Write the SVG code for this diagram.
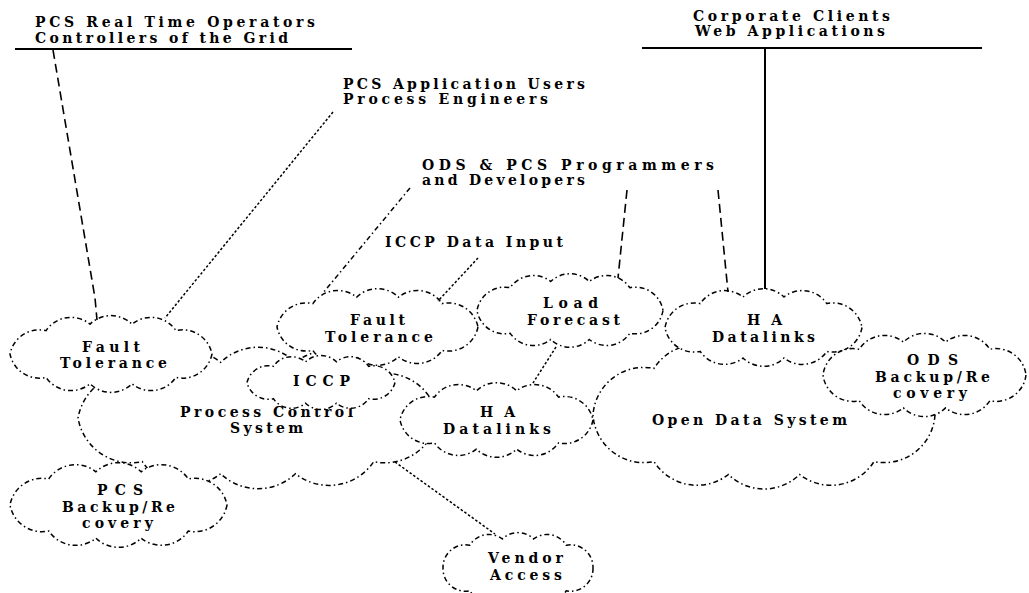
<svg xmlns="http://www.w3.org/2000/svg" width="1029" height="593" viewBox="0 0 1029 593">
<style>
.cloud{fill:#fff;stroke:#000;stroke-width:1.5;stroke-dasharray:5 3 1.5 3}
.solid{stroke:#000;stroke-width:2;fill:none}
.dash{stroke:#000;stroke-width:1.6;fill:none;stroke-dasharray:9 5}
.dot{stroke:#000;stroke-width:1.5;fill:none;stroke-dasharray:2.5 2}
.dd{stroke:#000;stroke-width:1.5;fill:none;stroke-dasharray:5 3 1.5 3}
text{font-family:"DejaVu Serif",serif;font-size:14px;font-weight:bold;fill:#000}
</style>
<rect width="1029" height="593" fill="#fff"/>

<g id="pcs-system">
<path class="cloud" d="M438,418 A54,54 0 0 1 373.7,461.7 A54,54 0 0 1 295.4,473.7 A54,54 0 0 1 220.6,473.7 A54,54 0 0 1 142.3,461.7 A54,54 0 0 1 78,418 A54,54 0 0 1 142.3,374.3 A54,54 0 0 1 220.6,362.3 A54,54 0 0 1 295.4,362.3 A54,54 0 0 1 373.7,374.3 A54,54 0 0 1 438,418 Z"/>
<text x="180" y="417" textLength="173">Process Control</text>
<text x="230" y="433" textLength="73">System</text>
</g>

<g id="open-data-system">
<path class="cloud" d="M935,415 A51,51 0 0 1 874,461.6 A51,51 0 0 1 799.6,474.5 A51,51 0 0 1 728.4,474.5 A51,51 0 0 1 654,461.6 A51,51 0 0 1 593,415 A51,51 0 0 1 654,368.4 A51,51 0 0 1 728.4,355.5 A51,51 0 0 1 799.6,355.5 A51,51 0 0 1 874,368.4 A51,51 0 0 1 935,415 Z"/>
<text x="652" y="425" textLength="195">Open Data System</text>
</g>

<g id="ha-datalinks-mid">
<path class="cloud" d="M593,420 A29,29 0 0 1 558.5,442.9 A29,29 0 0 1 516.6,449.2 A29,29 0 0 1 476.4,449.2 A29,29 0 0 1 434.5,442.9 A29,29 0 0 1 400,420 A29,29 0 0 1 434.5,397.1 A29,29 0 0 1 476.4,390.8 A29,29 0 0 1 516.6,390.8 A29,29 0 0 1 558.5,397.1 A29,29 0 0 1 593,420 Z"/>
<text x="480" y="417" textLength="35">HA</text>
<text x="443" y="434" textLength="108">Datalinks</text>
</g>

<g id="fault-tolerance-mid">
<path class="cloud" d="M478,327 A30,30 0 0 1 442.1,350.4 A30,30 0 0 1 398.4,356.8 A30,30 0 0 1 356.6,356.8 A30,30 0 0 1 312.9,350.4 A30,30 0 0 1 277,327 A30,30 0 0 1 312.9,303.6 A30,30 0 0 1 356.6,297.2 A30,30 0 0 1 398.4,297.2 A30,30 0 0 1 442.1,303.6 A30,30 0 0 1 478,327 Z"/>
<text x="350" y="325" textLength="55">Fault</text>
<text x="325" y="342" textLength="108">Tolerance</text>
</g>

<g id="iccp">
<path class="cloud" d="M395,382.5 A22,22 0 0 1 368.6,398.7 A22,22 0 0 1 336.4,403.2 A22,22 0 0 1 305.6,403.2 A22,22 0 0 1 273.4,398.7 A22,22 0 0 1 247,382.5 A22,22 0 0 1 273.4,366.3 A22,22 0 0 1 305.6,361.8 A22,22 0 0 1 336.4,361.8 A22,22 0 0 1 368.6,366.3 A22,22 0 0 1 395,382.5 Z"/>
<text x="293" y="386" textLength="57">ICCP</text>
</g>

<g id="fault-tolerance-left">
<path class="cloud" d="M212,354 A30,30 0 0 1 175.9,377.4 A30,30 0 0 1 132,383.8 A30,30 0 0 1 90,383.8 A30,30 0 0 1 46.1,377.4 A30,30 0 0 1 10,354 A30,30 0 0 1 46.1,330.6 A30,30 0 0 1 90,324.2 A30,30 0 0 1 132,324.2 A30,30 0 0 1 175.9,330.6 A30,30 0 0 1 212,354 Z"/>
<text x="82" y="352" textLength="58">Fault</text>
<text x="60" y="368" textLength="107">Tolerance</text>
</g>

<g id="load-forecast">
<path class="cloud" d="M663,310.5 A28,28 0 0 1 629.8,333.3 A28,28 0 0 1 589.3,339.5 A28,28 0 0 1 550.7,339.5 A28,28 0 0 1 510.2,333.3 A28,28 0 0 1 477,310.5 A28,28 0 0 1 510.2,287.7 A28,28 0 0 1 550.7,281.5 A28,28 0 0 1 589.3,281.5 A28,28 0 0 1 629.8,287.7 A28,28 0 0 1 663,310.5 Z"/>
<text x="543" y="308" textLength="55">Load</text>
<text x="527" y="325" textLength="93">Forecast</text>
</g>

<g id="ha-datalinks-right">
<path class="cloud" d="M862,327.5 A29.5,29.5 0 0 1 826.8,351.4 A29.5,29.5 0 0 1 784,358 A29.5,29.5 0 0 1 743,358 A29.5,29.5 0 0 1 700.2,351.4 A29.5,29.5 0 0 1 665,327.5 A29.5,29.5 0 0 1 700.2,303.6 A29.5,29.5 0 0 1 743,297 A29.5,29.5 0 0 1 784,297 A29.5,29.5 0 0 1 826.8,303.6 A29.5,29.5 0 0 1 862,327.5 Z"/>
<text x="747" y="325" textLength="35">HA</text>
<text x="712" y="342" textLength="103">Datalinks</text>
</g>

<g id="ods-backup">
<path class="cloud" d="M1026,375 A30,30 0 0 1 989.8,400.7 A30,30 0 0 1 945.6,407.9 A30,30 0 0 1 903.4,407.9 A30,30 0 0 1 859.2,400.7 A30,30 0 0 1 823,375 A30,30 0 0 1 859.2,349.3 A30,30 0 0 1 903.4,342.1 A30,30 0 0 1 945.6,342.1 A30,30 0 0 1 989.8,349.3 A30,30 0 0 1 1026,375 Z"/>
<text x="907" y="365" textLength="51">ODS</text>
<text x="875" y="382" textLength="115">Backup/Re</text>
<text x="893" y="398" textLength="74">covery</text>
</g>

<g id="pcs-backup">
<path class="cloud" d="M227,505 A32.5,32.5 0 0 1 188.3,531 A32.5,32.5 0 0 1 141.1,538.2 A32.5,32.5 0 0 1 95.9,538.2 A32.5,32.5 0 0 1 48.7,531 A32.5,32.5 0 0 1 10,505 A32.5,32.5 0 0 1 48.7,479 A32.5,32.5 0 0 1 95.9,471.8 A32.5,32.5 0 0 1 141.1,471.8 A32.5,32.5 0 0 1 188.3,479 A32.5,32.5 0 0 1 227,505 Z"/>
<text x="97" y="495" textLength="46">PCS</text>
<text x="62" y="512" textLength="113">Backup/Re</text>
<text x="82" y="528" textLength="71">covery</text>
</g>

<g id="vendor-access">
<path class="cloud" d="M593,568 A22.5,22.5 0 0 1 566.2,590.8 A22.5,22.5 0 0 1 533.6,597.1 A22.5,22.5 0 0 1 502.4,597.1 A22.5,22.5 0 0 1 469.8,590.8 A22.5,22.5 0 0 1 443,568 A22.5,22.5 0 0 1 469.8,545.2 A22.5,22.5 0 0 1 502.4,538.9 A22.5,22.5 0 0 1 533.6,538.9 A22.5,22.5 0 0 1 566.2,545.2 A22.5,22.5 0 0 1 593,568 Z"/>
<text x="488" y="563" textLength="75">Vendor</text>
<text x="490" y="580" textLength="72">Access</text>
</g>

<g id="operators">
<text x="35" y="27" textLength="280">PCS Real Time Operators</text>
<text x="35" y="43" textLength="253">Controllers of the Grid</text>
</g>

<g id="corporate">
<text x="693" y="21" textLength="197">Corporate Clients</text>
<text x="695" y="36" textLength="190">Web Applications</text>
</g>

<g id="app-users">
<text x="343" y="89" textLength="242">PCS Application Users</text>
<text x="343" y="104" textLength="205">Process Engineers</text>
</g>

<g id="programmers">
<text x="422" y="170" textLength="292">ODS &amp; PCS Programmers</text>
<text x="422" y="185" textLength="163">and Developers</text>
</g>

<g id="iccp-input">
<text x="385" y="247" textLength="178">ICCP Data Input</text>
</g>

<g id="connectors">
<line class="solid" x1="15" y1="49" x2="352" y2="49"/>
<line class="solid" x1="642" y1="48" x2="982" y2="48"/>
<line class="solid" x1="765" y1="48" x2="765" y2="289"/>
<polyline class="dash" points="53,50 95,298 97,320"/>
<line class="dot" x1="333" y1="112" x2="165" y2="318"/>
<line class="dd" x1="410" y1="188" x2="323" y2="293"/>
<line class="dash" x1="627" y1="190" x2="618" y2="278"/>
<line class="dash" x1="718" y1="190" x2="728" y2="292"/>
<line class="dot" x1="478" y1="258" x2="438" y2="301"/>
<line class="dot" x1="556" y1="347" x2="533" y2="383"/>
<line class="dot" x1="395" y1="462" x2="495" y2="534"/>
</g>
</svg>
